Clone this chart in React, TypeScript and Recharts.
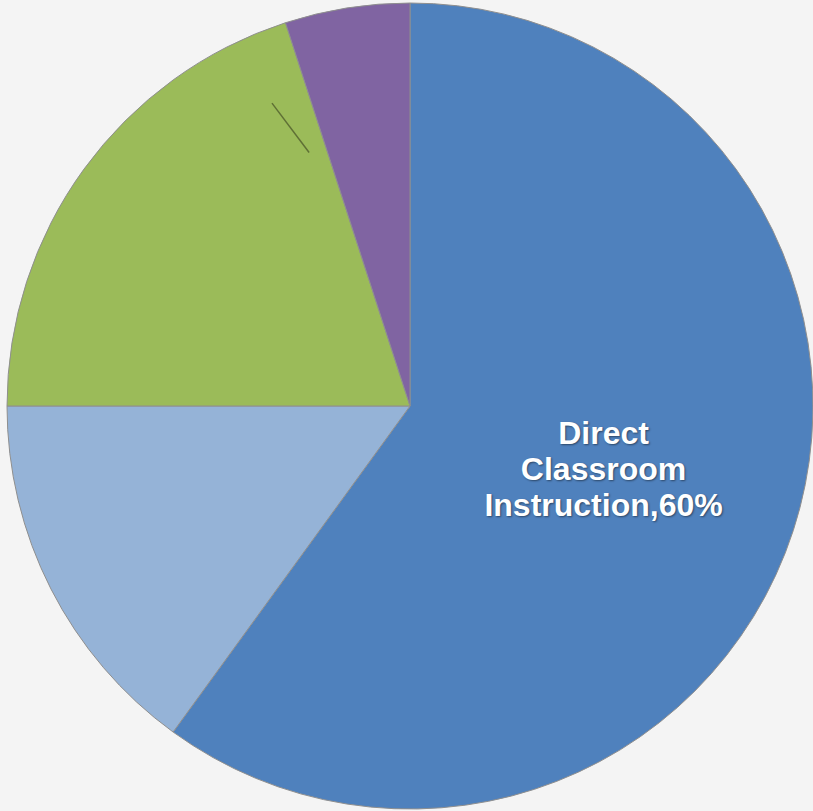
import React from "react";
import { PieChart, Pie, Cell } from "recharts";

// Share of time (percent), clockwise from 12 o'clock
const categories = [
  "Direct Classroom Instruction",
  "Planning",
  "Professional Development",
  "Other",
];
const shares = [60, 15, 20, 5];
const COLORS = ["#4f81bd", "#95b3d7", "#9bbb59", "#8064a2"];

const pieData = categories.map((name, i) => ({ name, value: shares[i] }));

const RAD = Math.PI / 180;
const polar = (cx: number, cy: number, r: number, angle: number) => ({
  x: cx + Math.cos(-angle * RAD) * r,
  y: cy + Math.sin(-angle * RAD) * r,
});

const renderLabel = (props: any) => {
  const { cx, cy, midAngle, outerRadius, index, name, value } = props;
  if (index === 0) {
    const p = polar(cx, cy, outerRadius * 0.505, midAngle);
    const words = name.split(" ");
    const lines = [words[0], words[1], `${words[2]},${value}%`];
    return (
      <text
        x={p.x}
        y={p.y}
        textAnchor="middle"
        fill="#ffffff"
        fontFamily="'Liberation Sans', Arial, sans-serif"
        fontWeight="bold"
        fontSize={32}
        style={{ textShadow: "1px 1px 2px rgba(0,0,0,0.45)" }}
      >
        {lines.map((l, i) => (
          <tspan key={i} x={p.x} y={p.y + (i - 1) * 36 + 11}>
            {l}
          </tspan>
        ))}
      </text>
    );
  }
  if (index === 3) {
    // leader line left without its text
    const a = polar(cx, cy, outerRadius * 0.677, midAngle + 12.7);
    const b = polar(cx, cy, outerRadius * 0.826, midAngle + 15.5);
    return (
      <line
        x1={a.x}
        y1={a.y}
        x2={b.x}
        y2={b.y}
        stroke="#5f7035"
        strokeWidth={1.5}
      />
    );
  }
  return null;
};

export default function App() {
  return (
    <div
      style={{
        position: "fixed",
        top: 0,
        left: 0,
        width: 813,
        height: 811,
        background: "#f4f4f4",
      }}
    >
      <PieChart
        width={813}
        height={811}
        margin={{ top: 0, right: 0, bottom: 0, left: 0 }}
      >
        <Pie
          data={pieData}
          dataKey="value"
          nameKey="name"
          cx={410}
          cy={406}
          outerRadius={403}
          startAngle={90}
          endAngle={-270}
          stroke="#8f8f8f"
          strokeWidth={1}
          labelLine={false}
          label={renderLabel}
          isAnimationActive={false}
        >
          {pieData.map((_entry, index) => (
            <Cell key={`cell-${index}`} fill={COLORS[index % COLORS.length]} />
          ))}
        </Pie>
      </PieChart>
    </div>
  );
}
